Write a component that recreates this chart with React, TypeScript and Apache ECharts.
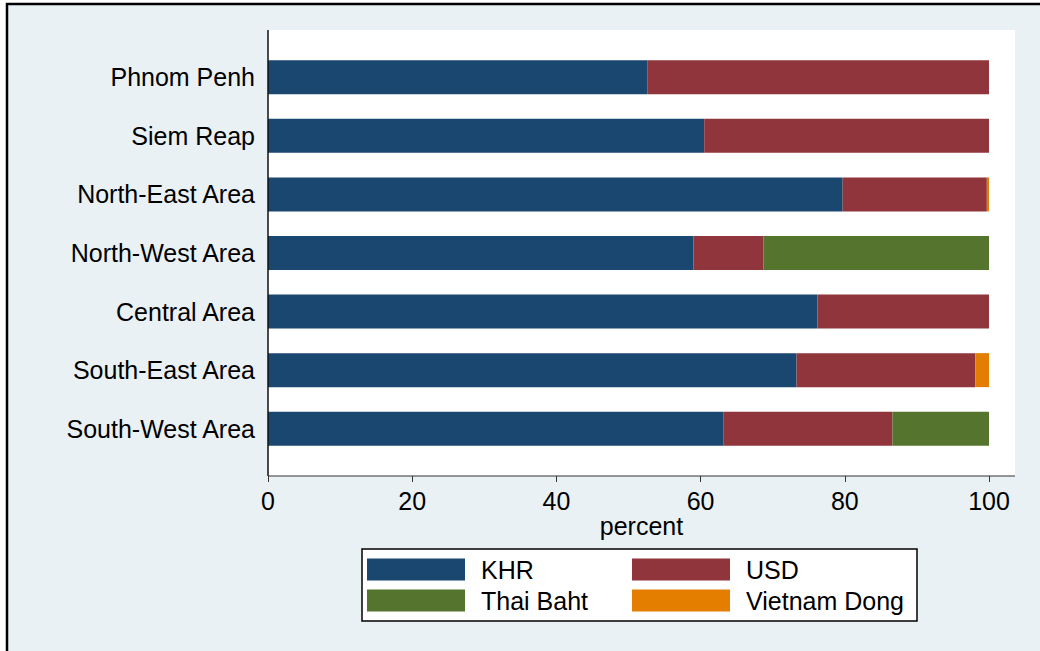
import React, { useEffect, useRef } from "react";
import * as echarts from "echarts";

const categories = [
  "Phnom Penh",
  "Siem Reap",
  "North-East Area",
  "North-West Area",
  "Central Area",
  "South-East Area",
  "South-West Area",
];
const khr = [52.6, 60.5, 79.7, 59.0, 76.2, 73.3, 63.2];
const usd = [47.4, 39.5, 20.0, 9.7, 23.8, 24.8, 23.4];
const thaiBaht = [0, 0, 0, 31.3, 0, 0, 13.4];
const vietnamDong = [0, 0, 0.3, 0, 0, 1.9, 0];
const xTickMin = 0;
const xTickMax = 100;
const xTickStep = 20;
const axisTitle = "percent";

const FONT = 'Arial, "Liberation Sans", sans-serif';
const FS = 25;

export default function App() {
  const ref = useRef<HTMLDivElement>(null);
  useEffect(() => {
    if (!ref.current) return;
    const chart = echarts.init(ref.current, undefined, { renderer: "svg" });
    const mkSeries = (name: string, data: number[], color: string) => ({
      name,
      type: "bar",
      stack: "total",
      data,
      barWidth: 34,
      itemStyle: { color },
      z: 5,
    });
    const legendBase = {
      orient: "vertical",
      padding: 0,
      itemWidth: 98,
      itemHeight: 22,
      itemGap: 6,
      icon: "rect",
      selectedMode: false,
      textStyle: {
        fontSize: FS,
        lineHeight: 22,
        color: "#000",
        fontFamily: FONT,
        padding: [0, 0, 0, 11],
      },
    };
    chart.setOption({
      animation: false,
      textStyle: { fontFamily: FONT },
      grid: { left: 268, right: 51, top: 48, height: 410 },
      xAxis: {
        type: "value",
        min: xTickMin,
        max: xTickMax,
        interval: xTickStep,
        offset: 18,
        splitLine: { show: false },
        axisLine: { show: false },
        axisTick: { show: true, length: 6, lineStyle: { color: "#333", width: 1 } },
        axisLabel: { fontSize: FS, color: "#000", margin: 12, fontFamily: FONT },
      },
      yAxis: {
        type: "category",
        inverse: true,
        data: categories,
        axisLine: { show: false },
        axisTick: { show: false },
        axisLabel: { fontSize: FS, color: "#000", margin: 13, fontFamily: FONT },
      },
      legend: [
        { ...legendBase, left: 367, top: 557, data: ["KHR", "Thai Baht"] },
        { ...legendBase, left: 632, top: 557, data: ["USD", "Vietnam Dong"] },
      ],
      graphic: [
        {
          type: "rect",
          z: -10,
          silent: true,
          shape: { x: 7, y: 4, width: 1100, height: 700 },
          style: { fill: "#E9F1F4", stroke: "#000", lineWidth: 2.5 },
        },
        {
          type: "rect",
          z: -9,
          silent: true,
          shape: { x: 268, y: 30, width: 747, height: 446 },
          style: { fill: "#FFFFFF" },
        },
        {
          type: "line",
          z: 10,
          silent: true,
          shape: { x1: 268, y1: 30, x2: 268, y2: 476 },
          style: { stroke: "#111", lineWidth: 1.5 },
        },
        {
          type: "line",
          z: 10,
          silent: true,
          shape: { x1: 268, y1: 476, x2: 1015, y2: 476 },
          style: { stroke: "#333", lineWidth: 1.2 },
        },
        {
          type: "text",
          z: 10,
          silent: true,
          x: 641.5,
          y: 526,
          style: {
            text: axisTitle,
            fontSize: FS,
            fontFamily: FONT,
            fill: "#000",
            align: "center",
            verticalAlign: "middle",
          },
        },
        {
          type: "rect",
          z: 3,
          silent: true,
          shape: { x: 362, y: 549, width: 555, height: 72 },
          style: { fill: "#FFFFFF", stroke: "#000", lineWidth: 1.5 },
        },
      ],
      series: [
        mkSeries("KHR", khr, "#1A476F"),
        mkSeries("USD", usd, "#90353B"),
        mkSeries("Thai Baht", thaiBaht, "#55752F"),
        mkSeries("Vietnam Dong", vietnamDong, "#E37E00"),
      ],
    });
    return () => chart.dispose();
  }, []);
  return (
    <div
      ref={ref}
      style={{ position: "absolute", left: 0, top: 0, width: 1040, height: 651 }}
    />
  );
}
